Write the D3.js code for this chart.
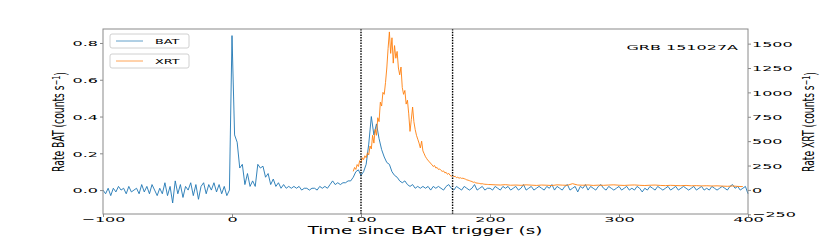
<!DOCTYPE html>
<html>
<head>
<meta charset="utf-8">
<script src="https://cdn.jsdelivr.net/npm/d3@7"></script>
<style>
  body { margin: 0; background: #fff; }
  svg { display: block; }
  text { font-family: "DejaVu Sans", sans-serif; fill: #000; }
</style>
</head>
<body>
<div id="chart"></div>
<script>
// BAT light curve, 2 s bins starting at t = -100 s (counts/s)
var batStart = -100, batStep = 2;
var batRate = [
  0.00, -0.02, 0.01, -0.03, 0.01, -0.01, 0.02, 0.00, 0.01, -0.02,
  0.02, -0.01, 0.00, 0.01, -0.02, 0.03, -0.01, 0.02, -0.02, 0.03,
  0.00, -0.03, 0.01, -0.02, 0.04, -0.03, 0.02, -0.07, 0.05, -0.02,
  0.03, -0.04, 0.02, 0.00, 0.04, -0.03, 0.03, -0.05, 0.02, 0.04,
  -0.02, 0.03, 0.00, 0.04, -0.01, 0.03, -0.02, 0.02, -0.03, 0.00,
  0.84, 0.30, 0.26, 0.12, 0.14, 0.03, 0.09, 0.02, 0.05, 0.02,
  0.14, 0.12, 0.13, 0.07, 0.09, 0.03, 0.06, 0.02, 0.04, 0.01,
  0.03, 0.01, 0.02, 0.01, 0.02, 0.01, 0.02, 0.00, 0.01, 0.01,
  0.00, 0.01, 0.01, 0.00, 0.02, 0.01, 0.02, 0.01, 0.03, 0.05,
  0.03, 0.04, 0.03, 0.04, 0.04, 0.05, 0.05, 0.07, 0.10, 0.11,
  0.08, 0.10, 0.14, 0.25, 0.40, 0.30, 0.36, 0.28, 0.22, 0.18,
  0.15, 0.14, 0.10, 0.08, 0.07, 0.05, 0.04, 0.05, 0.03, 0.02,
  0.03, 0.01, 0.02, 0.01, 0.02, 0.01, 0.02, 0.00, 0.02, 0.01,
  0.02, 0.01, 0.00, 0.02, 0.03, 0.01, 0.00, 0.02, 0.01, 0.00,
  0.02, 0.01, 0.00, 0.01, 0.03, 0.00, 0.01, 0.02, 0.00, 0.01,
  0.01, 0.00, 0.02, 0.01, 0.00, 0.02, 0.01, 0.02, 0.00, 0.01,
  0.02, 0.00, 0.01, 0.03, 0.00, 0.01, 0.02, 0.00, 0.01, 0.02,
  0.01, 0.00, 0.02, 0.01, 0.03, 0.00, 0.02, 0.01, 0.00, 0.02,
  0.03, 0.00, 0.01, 0.02, -0.01, 0.02, 0.01, 0.03, 0.00, 0.02,
  0.01, 0.00, 0.02, 0.03, 0.01, 0.00, 0.02, 0.01, 0.00, 0.01,
  0.02, 0.00, 0.01, 0.02, 0.00, 0.01, 0.00, 0.02, 0.01, -0.01,
  0.01, 0.00, 0.02, 0.01, 0.00, 0.02, 0.01, 0.00, 0.01, 0.02,
  0.00, 0.01, 0.02, 0.00, 0.01, 0.02, 0.01, 0.00, 0.01, 0.02,
  0.00, 0.01, 0.02, 0.00, 0.01, 0.00, 0.02, 0.01, 0.00, 0.01,
  0.02, 0.01, 0.00, 0.02, 0.03, 0.01, 0.02, 0.00, 0.01, 0.02,
  -0.02
];

// XRT light curve: 1 s bins from t = 94 s, then 4 s bins from t = 200 s
var xrtEarlyStart = 94, xrtEarlyStep = 1;
var xrtEarly = [
  190, 230, 210, 260, 240, 300, 280, 330, 310, 350,
  330, 380, 360, 450, 420, 560, 480, 620, 560, 740,
  700, 900, 860, 1000, 980, 1100, 1250, 1450, 1620, 1400,
  1560, 1300, 1480, 1350, 1420, 1250, 1180, 1260, 1050, 980,
  1020, 880, 920, 780, 600, 720, 850, 700, 620, 560,
  520, 480, 430, 500, 400, 370, 340, 320, 300, 290,
  270, 260, 240, 250, 225, 230, 210, 215, 200, 190,
  195, 175, 180, 160, 170, 150, 140, 150, 135, 140,
  125, 130, 120, 125, 118, 120, 115, 110, 103, 100,
  95, 90, 86, 78, 80, 72, 70, 68, 66, 62,
  64, 60, 58, 57, 56, 55
];
var xrtLateStart = 200, xrtLateStep = 4;
var xrtLate = [
  55, 52, 50, 54, 48, 50, 47, 52, 49, 46,
  50, 48, 45, 52, 49, 47, 64, 50, 48, 51,
  46, 49, 47, 50, 52, 48, 46, 49, 51, 47,
  45, 48, 50, 46, 44, 47, 45, 43, 46, 42,
  44, 41, 43, 40, 42, 39, 37, 40, 36, 34
];

var markTimes = [100, 171];
var xTicks = [-100, 0, 100, 200, 300, 400];
var batTicks = [0.0, 0.2, 0.4, 0.6, 0.8];
var xrtTicks = [-250, 0, 250, 500, 750, 1000, 1250, 1500];
var seriesNames = ["BAT", "XRT"];
var seriesColors = ["#1f77b4", "#ff7f0e"];
var title = "GRB 151027A";

(function(){
var width = 830, height = 245;
var pL = 103, pR = 748, pT = 29, pB = 214;

var batData = batRate.map(function(v, i){ return [batStart + batStep * i, v]; });
var xrtData = xrtEarly.map(function(v, i){ return [xrtEarlyStart + xrtEarlyStep * i, v]; })
  .concat(xrtLate.map(function(v, i){ return [xrtLateStart + xrtLateStep * i, v]; }));

var svg = d3.select("#chart").append("svg")
    .attr("width", width)
    .attr("height", height);

var x = d3.scaleLinear().domain([-100, 400]).range([pL, pR]);
var yBat = d3.scaleLinear().domain([-0.13, 0.876]).range([pB, pT]);
var yXrt = d3.scaleLinear().domain([-247, 1650]).range([pB, pT]);

// stretched text, like the squashed original figure
var SX = 1.6, SY = 0.75;

var batLine = d3.line().x(function(d){ return x(d[0]); }).y(function(d){ return yBat(d[1]); });
var xrtLine = d3.line().x(function(d){ return x(d[0]); }).y(function(d){ return yXrt(d[1]); });

svg.append("path")
    .datum(batData)
    .attr("d", batLine)
    .attr("fill", "none")
    .attr("stroke", seriesColors[0])
    .attr("stroke-width", 1)
    .attr("stroke-opacity", 0.9);

svg.append("path")
    .datum(xrtData)
    .attr("d", xrtLine)
    .attr("fill", "none")
    .attr("stroke", seriesColors[1])
    .attr("stroke-width", 1)
    .attr("stroke-opacity", 0.9);

// dotted markers
svg.selectAll(".mark")
    .data(markTimes)
    .enter().append("line")
    .attr("class", "mark")
    .attr("x1", function(d){ return x(d); })
    .attr("x2", function(d){ return x(d); })
    .attr("y1", pT)
    .attr("y2", pB)
    .attr("stroke", "#000")
    .attr("stroke-width", 1.4)
    .attr("stroke-dasharray", "1.5,1.2");

// frame
svg.append("rect")
    .attr("x", pL).attr("y", pT)
    .attr("width", pR - pL).attr("height", pB - pT)
    .attr("fill", "none")
    .attr("stroke", "#8a8a8a")
    .attr("stroke-width", 1);

function styleAxis(g){
    g.select(".domain").remove();
    g.selectAll(".tick line").attr("stroke", "#8a8a8a");
    g.selectAll(".tick text").attr("font-size", 10).attr("fill", "#000");
}

var gx = svg.append("g")
    .attr("transform", "translate(0," + pB + ")")
    .call(d3.axisBottom(x).tickValues(xTicks).tickSize(3).tickFormat(d3.format("d")));
styleAxis(gx);
gx.selectAll(".tick text")
    .attr("y", null)
    .attr("dy", "0.71em")
    .attr("transform", "translate(0,3) scale(" + SX + "," + SY + ")");

var gl = svg.append("g")
    .attr("transform", "translate(" + pL + ",0)")
    .call(d3.axisLeft(yBat).tickValues(batTicks).tickSize(3).tickFormat(d3.format(".1f")));
styleAxis(gl);
gl.selectAll(".tick text")
    .attr("x", null)
    .attr("dy", "0.36em")
    .attr("transform", "translate(-5,0) scale(" + SX + "," + SY + ")");

var gr = svg.append("g")
    .attr("transform", "translate(" + pR + ",0)")
    .call(d3.axisRight(yXrt).tickValues(xrtTicks).tickSize(3).tickFormat(d3.format("d")));
styleAxis(gr);
gr.selectAll(".tick text")
    .attr("x", null)
    .attr("dy", "0.36em")
    .attr("transform", "translate(4,0) scale(" + SX + "," + SY + ")");

// fit a text element to a target length along its baseline
function fit(t, cx, cy, target, perp, rot){
    var w = t.node().getBBox().width;
    var s = target / w;
    if (rot) {
        t.attr("transform", "translate(" + cx + "," + cy + ") scale(" + perp + "," + s + ") rotate(-90)");
    } else {
        t.attr("transform", "translate(" + cx + "," + cy + ") scale(" + s + "," + perp + ")");
    }
}

// x label
var xl = svg.append("text")
    .attr("text-anchor", "middle")
    .attr("dy", "0.36em")
    .attr("font-size", 13)
    .text("Time since BAT trigger (s)");
fit(xl, 425, 230, 236, 0.78, false);

// y labels
function yLabel(txt, cx){
    var t = svg.append("text")
        .attr("text-anchor", "middle")
        .attr("dy", "0.36em")
        .attr("font-size", 14)
        .style("font-family", "'DejaVu Sans Condensed', 'DejaVu Sans', sans-serif");
    t.append("tspan").text(txt);
    t.append("tspan").attr("dy", "-0.45em").attr("font-size", 10).text("\u22121");
    t.append("tspan").attr("dy", "0.45em").text(")");
    fit(t, cx, 122, 100, 1.08, true);
}
yLabel("Rate BAT (counts s", 59);
yLabel("Rate XRT (counts s", 809);

// title
svg.append("text")
    .attr("text-anchor", "end")
    .attr("dy", "0.36em")
    .attr("font-size", 10)
    .attr("transform", "translate(738,47) scale(" + SX + "," + SY + ")")
    .text(title);

// legends, two separate boxes
var leg = svg.selectAll(".legend")
    .data(seriesNames)
    .enter().append("g")
    .attr("class", "legend")
    .attr("transform", function(d, i){ return "translate(110," + (34 + i * 20) + ")"; });

leg.append("rect")
    .attr("width", 79).attr("height", 14)
    .attr("rx", 2)
    .attr("fill", "#fff")
    .attr("fill-opacity", 0.8)
    .attr("stroke", "#d0d0d0");

leg.append("line")
    .attr("x1", 6).attr("x2", 33)
    .attr("y1", 7).attr("y2", 7)
    .attr("stroke", function(d, i){ return seriesColors[i]; })
    .attr("stroke-opacity", 0.7)
    .attr("stroke-width", 1);

leg.append("text")
    .attr("dy", "0.36em")
    .attr("font-size", 8)
    .attr("transform", "translate(45,7) scale(" + SX + ",0.95)")
    .text(function(d){ return d; });
})();
</script>
</body>
</html>
